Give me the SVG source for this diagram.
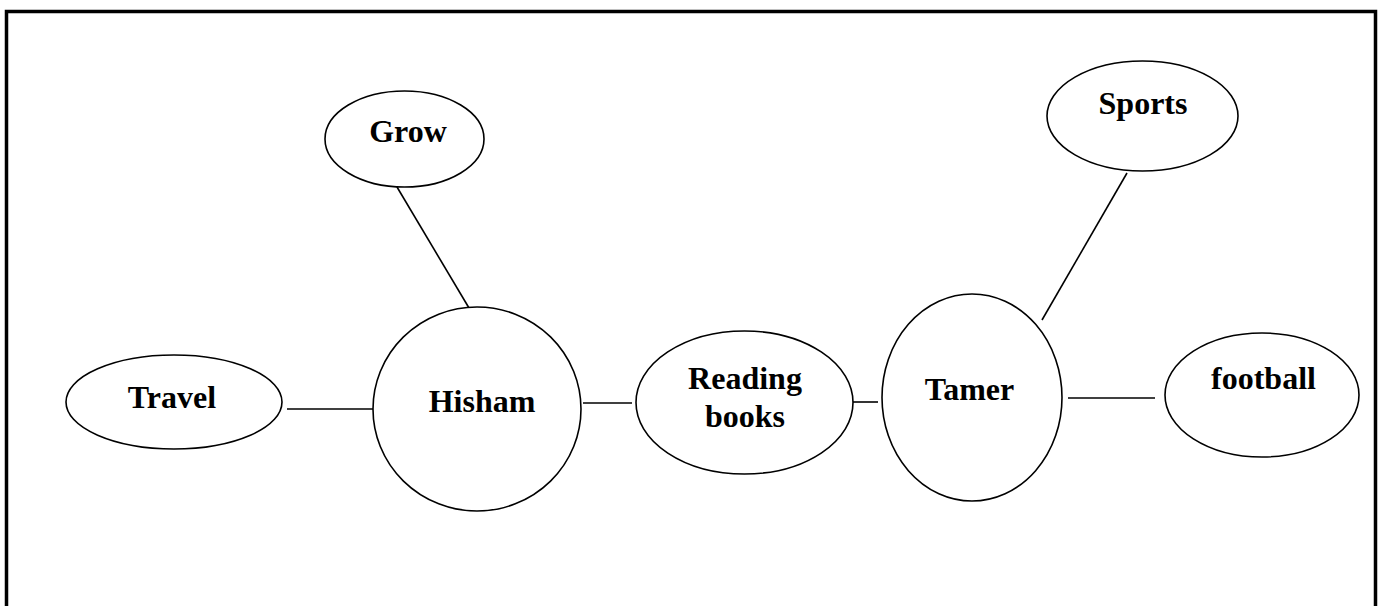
<svg xmlns="http://www.w3.org/2000/svg" width="1384" height="606" viewBox="0 0 1384 606">
  <style>
    .frame { fill: none; stroke: #000; stroke-width: 3.5; }
    .node { fill: #fff; stroke: #000; stroke-width: 1.6; }
    .link { stroke: #000; stroke-width: 1.6; fill: none; }
    .label { font-family: "Liberation Serif", "Times New Roman", serif; font-weight: bold; font-size: 32px; fill: #000; text-anchor: middle; }
  </style>
  <rect width="1384" height="606" fill="#fff"/>
  <!-- outer frame, open at the bottom -->
  <path class="frame" d="M6.5 610 V11.5 H1375.5 V610"/>

  <g id="connectors">
    <line class="link" x1="397" y1="187" x2="469" y2="308"/>
    <line class="link" x1="287" y1="409" x2="373" y2="409"/>
    <line class="link" x1="583" y1="403" x2="632" y2="403"/>
    <line class="link" x1="853" y1="402" x2="878" y2="402"/>
    <line class="link" x1="1068" y1="398" x2="1155" y2="398"/>
    <line class="link" x1="1127" y1="173" x2="1042" y2="320"/>
  </g>

  <g id="grow">
    <ellipse class="node" cx="404.5" cy="139" rx="79.5" ry="48"/>
    <text class="label" x="408" y="142">Grow</text>
  </g>
  <g id="travel">
    <ellipse class="node" cx="174" cy="402" rx="108" ry="47"/>
    <text class="label" x="172" y="408">Travel</text>
  </g>
  <g id="hisham">
    <ellipse class="node" cx="477" cy="409" rx="104" ry="102"/>
    <text class="label" x="482" y="412">Hisham</text>
  </g>
  <g id="reading-books">
    <ellipse class="node" cx="744.5" cy="402.5" rx="108.5" ry="71.5"/>
    <text class="label" x="745" y="389">Reading</text>
    <text class="label" x="745" y="427">books</text>
  </g>
  <g id="tamer">
    <ellipse class="node" cx="972" cy="397.5" rx="90" ry="103.5"/>
    <text class="label" x="969.5" y="400">Tamer</text>
  </g>
  <g id="sports">
    <ellipse class="node" cx="1142.5" cy="116" rx="95.5" ry="55"/>
    <text class="label" x="1143" y="114">Sports</text>
  </g>
  <g id="football">
    <ellipse class="node" cx="1262" cy="395" rx="97" ry="62"/>
    <text class="label" x="1263.5" y="389">football</text>
  </g>
</svg>
